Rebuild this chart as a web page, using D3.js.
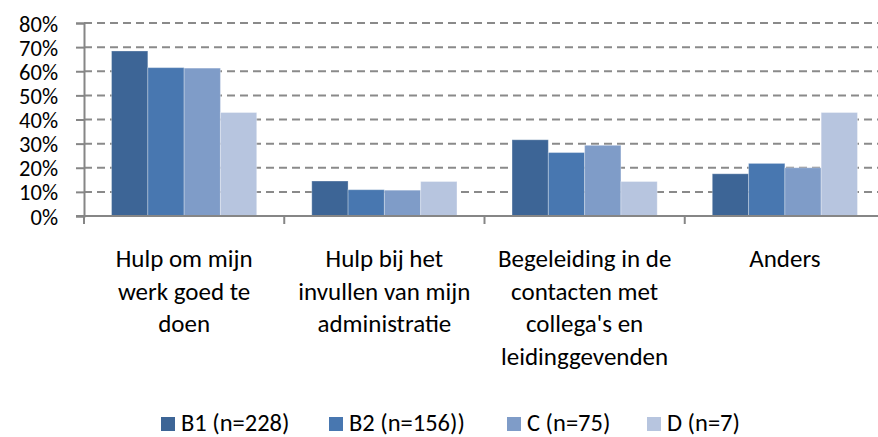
<!DOCTYPE html>
<html lang="nl">
<head>
<meta charset="UTF-8">
<title>Hulp en begeleiding</title>
<script src="https://d3js.org/d3.v7.min.js"></script>
<style>
    body { margin: 0; background: white; }
    svg { display: block; }
    text { font-family: Carlito, Calibri, Lato, sans-serif; fill: #000; }
</style>
</head>
<body>
<div id="chart"></div>
<script>
    const categories = [
        ["Hulp om mijn", "werk goed te", "doen"],
        ["Hulp bij het", "invullen van mijn", "administratie"],
        ["Begeleiding in de", "contacten met", "collega's en", "leidinggevenden"],
        ["Anders"]
    ];
    const seriesNames = ["B1 (n=228)", "B2 (n=156))", "C (n=75)", "D (n=7)"];
    const B1 = [0.684, 0.145, 0.316, 0.175];
    const B2 = [0.615, 0.109, 0.263, 0.218];
    const C  = [0.613, 0.107, 0.293, 0.200];
    const D  = [0.429, 0.143, 0.143, 0.429];
    const yTicks = [0, 0.1, 0.2, 0.3, 0.4, 0.5, 0.6, 0.7, 0.8];
    const colors = ["#3d6596", "#4877b0", "#7f9cc8", "#b7c5df"];

    const series = [B1, B2, C, D];
    const W = 878, H = 437;
    const fontSize = 25;

    const svg = d3.select("#chart").append("svg")
        .attr("width", W).attr("height", H);

    const catIdx = categories.map((d, i) => i);
    const x = d3.scaleBand().domain(catIdx).range([84, 885])
        .paddingInner(0.275).paddingOuter(0.1375);
    const xs = d3.scaleBand().domain(d3.range(series.length)).range([0, x.bandwidth()]);
    const y = d3.scaleLinear().domain([0, 0.8]).range([216, 23]);
    const step = x.step();

    // dashed gridlines
    svg.append("g").selectAll("line")
        .data(yTicks.filter(d => d > 0))
        .join("line")
        .attr("x1", 84).attr("x2", W)
        .attr("y1", d => y(d)).attr("y2", d => y(d))
        .attr("stroke", "#8a8a8a").attr("stroke-width", 2)
        .attr("stroke-dasharray", "8,5");

    // bars
    series.forEach((vals, s) => {
        svg.append("g").selectAll("rect")
            .data(vals)
            .join("rect")
            .attr("x", (d, i) => x(i) + xs(s))
            .attr("width", xs.bandwidth())
            .attr("y", d => y(d))
            .attr("height", d => y(0) - y(d))
            .attr("fill", colors[s])
            .attr("stroke", "#ffffff").attr("stroke-opacity", 0.3).attr("stroke-width", 1);
    });

    // y axis
    const yAxis = svg.append("g").attr("transform", "translate(84,0)")
        .call(d3.axisLeft(y).tickValues(yTicks).tickSize(8).tickFormat(d3.format(".0%")));
    yAxis.select(".domain").attr("stroke", "#868686").attr("stroke-width", 2);
    yAxis.selectAll(".tick line").attr("stroke", "#868686").attr("stroke-width", 2);
    yAxis.selectAll(".tick text")
        .attr("x", -26).attr("dy", "0.36em")
        .style("font-size", "22.5px")
        .style("font-family", "Carlito, Calibri, Lato, sans-serif")
        .attr("fill", "#000");

    // x axis line + category boundary ticks
    svg.append("line")
        .attr("x1", 76).attr("x2", W)
        .attr("y1", y(0)).attr("y2", y(0))
        .attr("stroke", "#868686").attr("stroke-width", 2);
    svg.append("g").selectAll("line")
        .data(d3.range(categories.length + 1))
        .join("line")
        .attr("x1", d => 84 + d * step).attr("x2", d => 84 + d * step)
        .attr("y1", y(0)).attr("y2", y(0) + 8)
        .attr("stroke", "#868686").attr("stroke-width", 2);

    // category labels
    svg.append("g").selectAll("text")
        .data(categories)
        .join("text")
        .attr("text-anchor", "middle")
        .style("font-size", fontSize + "px")
        .each(function (lines, i) {
            d3.select(this).selectAll("tspan")
                .data(lines)
                .join("tspan")
                .attr("x", x(i) + x.bandwidth() / 2)
                .attr("y", (d, j) => 267 + j * 32.6)
                .text(d => d);
        });

    // legend
    const legendX = [161, 329, 507, 647];
    const items = svg.append("g").selectAll("g")
        .data(seriesNames)
        .join("g")
        .attr("transform", (d, i) => `translate(${legendX[i]},0)`);
    items.append("rect")
        .attr("width", 14).attr("height", 14)
        .attr("y", 417)
        .attr("fill", (d, i) => colors[i]);
    items.append("text")
        .attr("x", 20).attr("y", 431)
        .style("font-size", "24.5px")
        .text(d => d);
</script>
</body>
</html>
